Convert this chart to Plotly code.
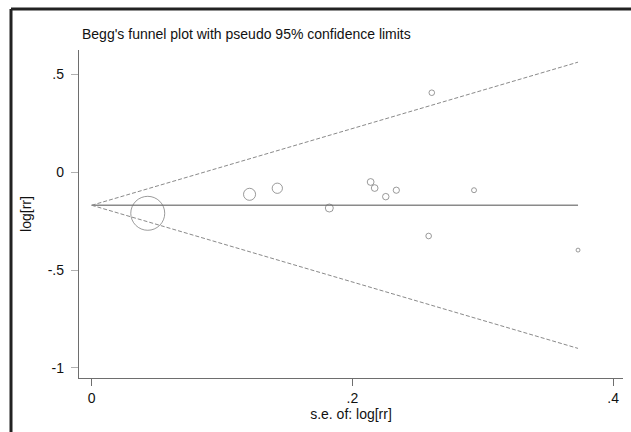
import plotly.graph_objects as go

# --- data ---
se_logrr = [0.0430, 0.1211, 0.1424, 0.1823, 0.2140, 0.2171, 0.2256, 0.2337,
            0.2585, 0.2609, 0.2933, 0.3731]
logrr = [-0.210, -0.113, -0.082, -0.183, -0.050, -0.081, -0.125, -0.092,
         -0.326, 0.406, -0.092, -0.398]
pooled_logrr = -0.169
x_ticks = [0, 0.2, 0.4]
x_ticklabels = ["0", ".2", ".4"]
y_ticks = [0.5, 0, -0.5, -1]
y_ticklabels = [".5", "0", "-.5", "-1"]

title_text = "Begg's funnel plot with pseudo 95% confidence limits"
x_title = "s.e. of: log[rr]"
y_title = "log[rr]"

FONT = "Liberation Sans, Arial, sans-serif"
FS = 14
W, H = 631, 432
ML, MR, MT, MB = 79, 8, 50, 54

se_max = max(se_logrr)
z = 1.96

fig = go.Figure()

# pseudo 95% confidence limits (dashed)
fig.add_trace(go.Scatter(
    x=[0, se_max], y=[pooled_logrr, pooled_logrr + z * se_max],
    mode="lines", line=dict(color="#8a8a8a", width=1, dash="4px,2px"),
    hoverinfo="skip", showlegend=False))
fig.add_trace(go.Scatter(
    x=[0, se_max], y=[pooled_logrr, pooled_logrr - z * se_max],
    mode="lines", line=dict(color="#8a8a8a", width=1, dash="4px,2px"),
    hoverinfo="skip", showlegend=False))
# pooled estimate (solid)
fig.add_trace(go.Scatter(
    x=[0, se_max], y=[pooled_logrr, pooled_logrr],
    mode="lines", line=dict(color="#8a8a8a", width=1.5),
    hoverinfo="skip", showlegend=False))

# studies: marker diameter ~ 1/se (weight)
sizes = [max(3.5, 1.46 / s) for s in se_logrr]
fig.add_trace(go.Scatter(
    x=se_logrr, y=logrr, mode="markers",
    marker=dict(symbol="circle-open", size=sizes, color="#707070",
                line=dict(width=1, color="#707070")),
    showlegend=False))

pw = W - ML - MR
ph = H - MT - MB

def px_x(p):
    return (p - ML) / pw

def px_y(p):
    return (H - MB - p) / ph

# outer frame (top and left dark border)
fig.add_shape(type="line", xref="paper", yref="paper",
              x0=px_x(11), x1=px_x(640), y0=px_y(9), y1=px_y(9),
              line=dict(color="#222222", width=3))
fig.add_shape(type="line", xref="paper", yref="paper",
              x0=px_x(11), x1=px_x(11), y0=px_y(9), y1=px_y(445),
              line=dict(color="#222222", width=3))

# title
fig.add_annotation(text=title_text, xref="paper", yref="paper",
                   x=px_x(80), y=px_y(34), xanchor="left", yanchor="middle",
                   showarrow=False, font=dict(family=FONT, size=FS, color="#111"))

fig.update_layout(
    width=W, height=H,
    margin=dict(l=ML, r=MR, t=MT, b=MB, pad=0),
    paper_bgcolor="white", plot_bgcolor="white",
    font=dict(family=FONT, size=FS, color="#111"),
    showlegend=False,
)
fig.update_xaxes(
    range=[-0.00974, 0.4076], tickvals=x_ticks, ticktext=x_ticklabels,
    showgrid=False, zeroline=False, showline=True, linecolor="#6e6e6e", linewidth=1.3,
    ticks="outside", ticklen=7, tickcolor="#6e6e6e", tickwidth=1.3,
    tickfont=dict(family=FONT, size=FS, color="#111"),
    title=dict(text=x_title, standoff=0, font=dict(family=FONT, size=FS, color="#111")),
)
fig.update_yaxes(
    range=[-1.0516, 0.6244], tickvals=y_ticks, ticktext=y_ticklabels,
    showgrid=False, zeroline=False, showline=True, linecolor="#6e6e6e", linewidth=1.3,
    ticks="outside", ticklen=7, tickcolor="#b0b0b0", tickwidth=1,
    tickfont=dict(family=FONT, size=FS, color="#111"), tickangle=0,
    ticklabelstandoff=4,
    title=dict(text=y_title, standoff=12, font=dict(family=FONT, size=FS, color="#111")),
)

fig.write_html(
    "out.html",
    config={"displayModeBar": False},
    post_script="document.body.style.margin='0';document.body.style.overflow='hidden';",
)
